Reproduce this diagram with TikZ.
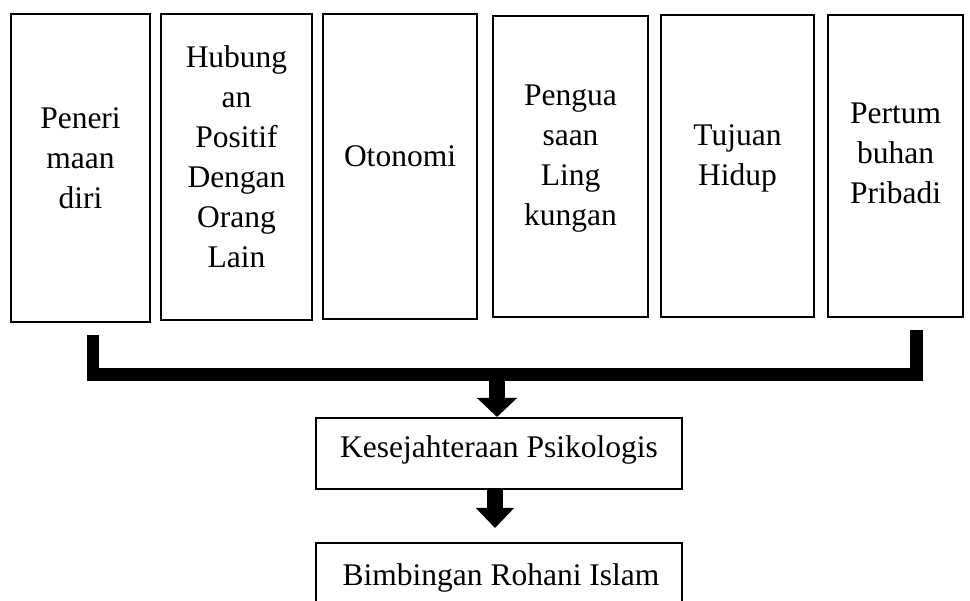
\documentclass[tikz,border=0pt]{standalone}
\usepackage{fontspec}
\setmainfont{Liberation Serif}
\usetikzlibrary{arrows.meta}
\begin{document}
\begin{tikzpicture}[x=1pt,y=-1pt,
  box/.style={draw=black,line width=2pt,rectangle,inner sep=0pt},
  lbl/.style={align=center,inner sep=0pt,font=\fontsize{31.5}{40}\selectfont},
  bracketline/.style={line width=12.5pt,line cap=butt,line join=miter},
  bigarrow/.style={line width=16pt,-{Triangle[width=39pt,length=19pt]}},
  bigarrowb/.style={line width=16pt,-{Triangle[width=37pt,length=20pt]}}]
\useasboundingbox (0,0) rectangle (970,601);
\clip (0,0) rectangle (970,601);
% top boxes
\node[box,minimum width=139pt,minimum height=308pt] (b1) at (80.5,168) {};
\node[box,minimum width=151pt,minimum height=306pt] (b2) at (236.5,167) {};
\node[box,minimum width=154pt,minimum height=305pt] (b3) at (400,166.5) {};
\node[box,minimum width=155pt,minimum height=301pt] (b4) at (570.5,166.5) {};
\node[box,minimum width=153pt,minimum height=302pt] (b5) at (737.5,166) {};
\node[box,minimum width=135pt,minimum height=302pt] (b6) at (895.5,166) {};
% labels
\node[lbl] (t1) at (80.5,161) {\strut Peneri\\\strut maan\\\strut diri};
\node[lbl] (t2) at (236.5,159.5) {\strut Hubung\\\strut an\\\strut Positif\\\strut Dengan\\\strut Orang\\\strut Lain};
\node[lbl] (t3) at (400,159) {\strut Otonomi};
\node[lbl] (t4) at (570.5,158) {\strut Pengua\\\strut saan\\\strut Ling\\\strut kungan};
\node[lbl] (t5) at (737.5,158) {\strut Tujuan\\\strut Hidup};
\node[lbl] (t6) at (895.5,156) {\strut Pertum\\\strut buhan\\\strut Pribadi};
% lower boxes
\node[box,minimum width=366pt,minimum height=71pt] (kes) at (499,453.5) {};
\node[lbl] (kest) at (499,450) {\strut Kesejahteraan Psikologis};
\node[box,minimum width=366pt,minimum height=71pt] (bim) at (499,578.5) {};
\node[lbl] (bimt) at (501,578) {\strut Bimbingan Rohani Islam};
% bracket connector
\coordinate (bl) at (93,335);
\coordinate (br) at (916.3,330);
\coordinate (bj) at (497,374.5);
\draw[bracketline] (bl) |- (bj) -| (br);
% arrows
\draw[bigarrow] (bj) -- (kes.north -| bj);
\draw[bigarrowb] (kes.south -| 495,0) -- ([yshift=14pt]bim.north -| 495,0);
\end{tikzpicture}
\end{document}
